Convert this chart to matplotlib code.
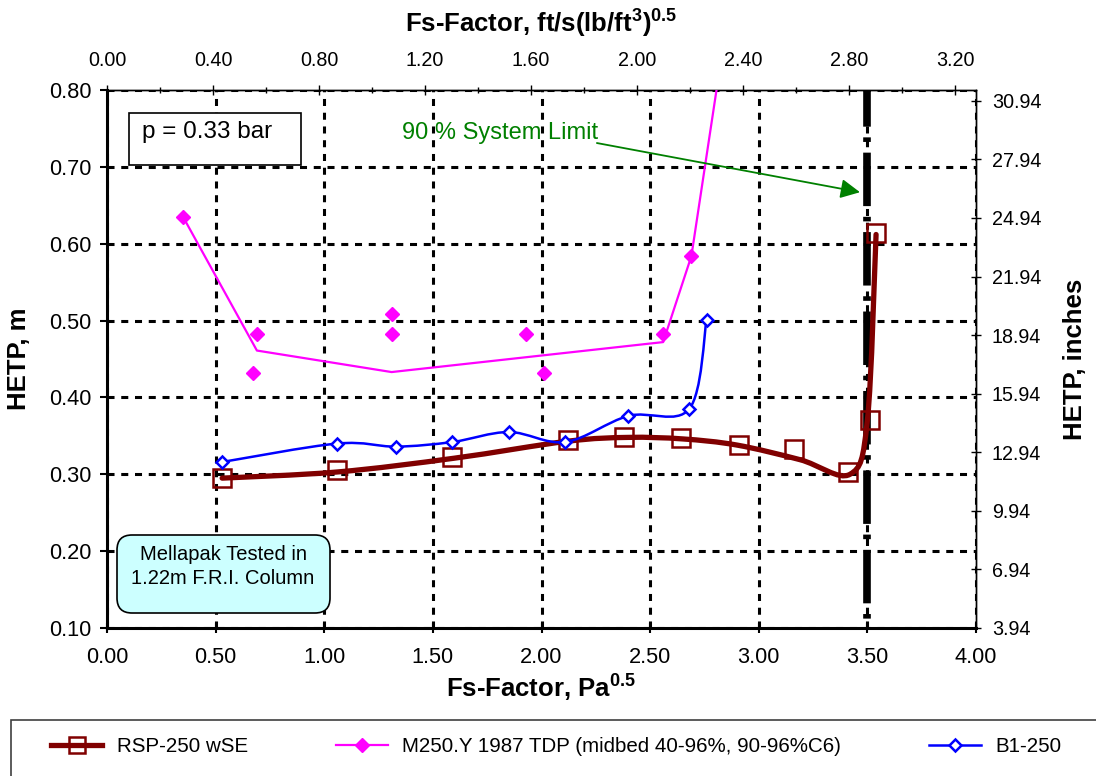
import numpy as np
import matplotlib
matplotlib.use("Agg")
import matplotlib.pyplot as plt
from matplotlib.path import Path
from matplotlib.patches import PathPatch, Rectangle, FancyBboxPatch
from matplotlib.lines import Line2D

plt.rcParams['font.family'] = ['Liberation Sans', 'DejaVu Sans']
plt.rcParams['mathtext.fontset'] = 'custom'
plt.rcParams['mathtext.rm'] = 'Liberation Sans'
plt.rcParams['mathtext.bf'] = 'Liberation Sans:bold'

# ---------------- data ----------------
rsp_x = [0.53, 1.06, 1.59, 2.12, 2.38, 2.64, 2.91, 3.16, 3.41, 3.51, 3.54]
rsp_y = [0.295, 0.305, 0.323, 0.345, 0.349, 0.347, 0.338, 0.333, 0.303, 0.371, 0.614]
# smoothed trend through the RSP data
rsp_fit_x = [0.53, 1.06, 1.60, 2.12, 2.40, 2.65, 2.90, 3.19, 3.42, 3.50, 3.54]
rsp_fit_y = [0.295, 0.303, 0.321, 0.343, 0.348, 0.346, 0.338, 0.319, 0.300, 0.370, 0.612]

m250_x = [0.35, 0.67, 0.69, 1.31, 1.31, 1.93, 2.01, 2.56, 2.69]
m250_y = [0.635, 0.432, 0.482, 0.508, 0.483, 0.483, 0.432, 0.483, 0.584]
m250_line_x = [0.35, 0.69, 1.31, 2.56, 2.69, 2.95]
m250_line_y = [0.635, 0.461, 0.433, 0.472, 0.584, 1.07]

b1_x = [0.53, 1.06, 1.33, 1.59, 1.85, 2.11, 2.40, 2.68, 2.76]
b1_y = [0.316, 0.340, 0.336, 0.342, 0.355, 0.342, 0.376, 0.385, 0.501]

system_limit_x = 3.50

x_ticks = [0.0, 0.5, 1.0, 1.5, 2.0, 2.5, 3.0, 3.5, 4.0]
y_ticks = [0.1, 0.2, 0.3, 0.4, 0.5, 0.6, 0.7, 0.8]
top_ticks = [0.0, 0.4, 0.8, 1.2, 1.6, 2.0, 2.4, 2.8, 3.2]
right_ticks = [3.94, 6.94, 9.94, 12.94, 15.94, 18.94, 21.94, 24.94, 27.94, 30.94]

FT2PA = 1.2199    # ft/s(lb/ft3)^0.5 -> Pa^0.5
M2IN = 39.37

RED = '#800000'
MAG = '#FF00FF'
BLUE = '#0000FF'
GREEN = '#008000'

W, H = 1096, 776


def smooth_path(xs, ys):
    """Excel-style smoothed line as cubic Bezier path."""
    P = np.column_stack([xs, ys]).astype(float)
    n = len(P)
    verts = [P[0]]
    codes = [Path.MOVETO]
    for i in range(n - 1):
        p_prev = P[i - 1] if i > 0 else P[i]
        p_next2 = P[i + 2] if i + 2 < n else P[i + 1]
        c1 = P[i] + (P[i + 1] - p_prev) / 6.0
        c2 = P[i + 1] - (p_next2 - P[i]) / 6.0
        verts += [c1, c2, P[i + 1]]
        codes += [Path.CURVE4] * 3
    return Path(verts, codes)


def fx(px):
    return px / W


def fy(py):
    return 1 - py / H


fig = plt.figure(figsize=(W / 100, H / 100), dpi=100)
ax = fig.add_axes([fx(107), fy(628), 869 / W, 538 / H])

ax.set_xlim(0, 4.0)
ax.set_ylim(0.1, 0.8)
ax.set_xticks(x_ticks)
ax.set_yticks(y_ticks)
ax.set_xticklabels([f"{v:.2f}" for v in x_ticks], fontsize=15.7)
ax.set_yticklabels([f"{v:.2f}" for v in y_ticks], fontsize=15.7)
ax.tick_params(axis='x', direction='inout', length=7, width=1.5, pad=10)
ax.tick_params(axis='y', direction='out', length=5, width=1.5, pad=6)

ax.grid(True, color='black', linewidth=2.2, linestyle=(0, (2.3, 2.2)))
ax.set_axisbelow(True)
for s in ['left', 'bottom']:
    ax.spines[s].set_linewidth(2.2)
for s in ['top', 'right']:
    ax.spines[s].set_linewidth(1.0)

# system limit line
ax.plot([system_limit_x, system_limit_x], [0.8, 0.1], color='black', lw=5.5,
        linestyle=(2.2, (7, 1.4, 0.6, 1.4)), solid_capstyle='butt',
        dash_capstyle='butt', zorder=3)

# M250 line and markers
ax.plot(m250_line_x, m250_line_y, color=MAG, lw=1.6, zorder=4)
ax.plot(m250_x, m250_y, linestyle='none', marker='D', ms=7, mfc=MAG, mec=MAG, zorder=5)

# RSP smoothed trend + markers
ax.add_patch(PathPatch(smooth_path(rsp_fit_x, rsp_fit_y), fill=False, edgecolor=RED,
                       lw=3.8, capstyle='round', zorder=6))
ax.plot(rsp_x, rsp_y, linestyle='none', marker='s', ms=12.5, mfc='none', mec=RED,
        mew=1.8, zorder=7)

# B1-250 smoothed line + markers
ax.add_patch(PathPatch(smooth_path(b1_x, b1_y), fill=False, edgecolor=BLUE, lw=1.8, zorder=8))
ax.plot(b1_x, b1_y, linestyle='none', marker='D', ms=6.6, mfc='white', mec=BLUE,
        mew=1.8, zorder=9)

# secondary axes
top = ax.secondary_xaxis('top', functions=(lambda x: x / FT2PA, lambda x: x * FT2PA))
top.set_xticks(top_ticks)
top.set_xticklabels([f"{v:.2f}" for v in top_ticks], fontsize=14.2)
top.xaxis.set_minor_locator(matplotlib.ticker.MultipleLocator(0.2))
top.tick_params(axis='x', which='major', direction='inout', length=7, width=1.0, pad=11)
top.tick_params(axis='x', which='minor', direction='inout', length=5, width=1.0)
top.spines['top'].set_linewidth(1.0)

right = ax.secondary_yaxis('right', functions=(lambda y: y * M2IN, lambda y: y / M2IN))
right.set_yticks(right_ticks)
right.set_yticklabels([f"{v:.2f}" for v in right_ticks], fontsize=14.2)
right.tick_params(axis='y', direction='inout', length=7, width=1.0, pad=8)
right.spines['right'].set_linewidth(1.0)

# axis titles
fig.text(fx(541), fy(32), r'Fs-Factor, ft/s(lb/ft$^{\mathbf{3}}$)$^{\mathbf{0.5}}$',
         fontsize=18.5, fontweight='bold', ha='center', va='baseline')
fig.text(fx(541), fy(697), r'Fs-Factor, Pa$^{\mathbf{0.5}}$',
         fontsize=18.5, fontweight='bold', ha='center', va='baseline')
fig.text(fx(19), fy(359), 'HETP, m', fontsize=18.5, fontweight='bold',
         rotation=90, ha='center', va='center')
fig.text(fx(1075), fy(359), 'HETP, inches', fontsize=18.5, fontweight='bold',
         rotation=90, ha='center', va='center')

# annotation boxes
fig.patches.append(Rectangle((fx(129), fy(165)), 172 / W, 52 / H, transform=fig.transFigure,
                             facecolor='white', edgecolor='black', lw=1.2, zorder=10))
fig.text(fx(142), fy(132), 'p = 0.33 bar', fontsize=17.5, va='center', ha='left', zorder=11)

fig.patches.append(FancyBboxPatch((fx(117), fy(613)), 213 / W, 78 / H,
                                  boxstyle='round,pad=0,rounding_size=%f' % (15 / W),
                                  mutation_aspect=W / H, transform=fig.transFigure,
                                  facecolor='#CCFFFF', edgecolor='black', lw=1.2, zorder=10))
fig.text(fx(223), fy(566.5), 'Mellapak Tested in\n1.22m F.R.I. Column',
         fontsize=14.5, ha='center', va='center', linespacing=1.4, zorder=11)

ax.annotate('', xy=(3.466, 0.667), xytext=(2.255, 0.731), zorder=11,
            arrowprops=dict(arrowstyle='-|>,head_length=0.9,head_width=0.45',
                            mutation_scale=13, color=GREEN, lw=1.3, shrinkA=0, shrinkB=0))
ax.text(1.358, 0.744, '90 % System Limit', color=GREEN, fontsize=17, ha='left',
        va='center', zorder=11)

# legend
fig.patches.append(Rectangle((fx(11), -0.05), 1.2, (H - 720) / H + 0.05,
                             transform=fig.transFigure, facecolor='white',
                             edgecolor='#404040', lw=1.2))
handles = [
    Line2D([], [], color=RED, lw=3.8, marker='s', ms=11, mfc='none', mec=RED, mew=1.8),
    Line2D([], [], color=MAG, lw=1.6, marker='D', ms=7, mfc=MAG, mec=MAG),
    Line2D([], [], color=BLUE, lw=1.8, marker='D', ms=6.6, mfc='white', mec=BLUE, mew=1.8),
]
labels = ['RSP-250 wSE', 'M250.Y 1987 TDP (midbed 40-96%, 90-96%C6)', 'B1-250']
fig.legend(handles, labels, loc='center left', bbox_to_anchor=(fx(51), fy(747)),
           ncol=3, frameon=False, fontsize=14.8, handlelength=2.5, handletextpad=0.7,
           columnspacing=4.3, borderpad=0, borderaxespad=0)

fig.savefig('out.png', dpi=100)
